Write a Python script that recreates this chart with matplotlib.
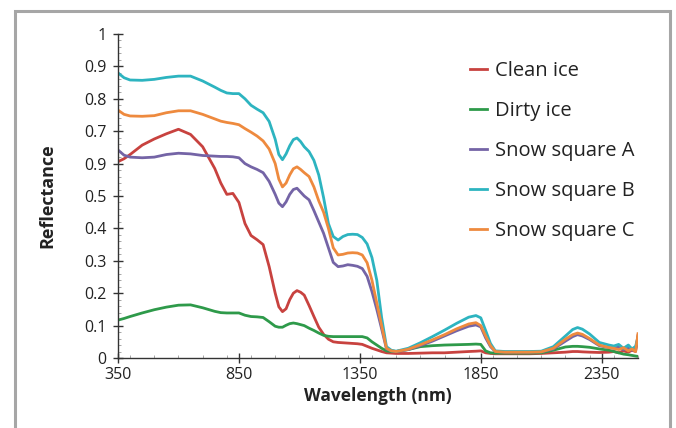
import matplotlib
matplotlib.use("Agg")
import matplotlib.pyplot as plt
from matplotlib.patches import Rectangle
from matplotlib.ticker import MultipleLocator, FixedLocator

plt.rcParams["font.family"] = ["Open Sans", "DejaVu Sans"]

# wavelength knots (nm)
wavelength = [350, 375, 400, 450, 500, 550, 600, 650, 700, 750,
              775, 800, 825, 850, 875, 900, 925, 950, 975, 1000,
              1015, 1030, 1045, 1060, 1075, 1090, 1105, 1120, 1140, 1160,
              1180, 1200, 1220, 1240, 1260, 1280, 1300, 1320, 1340, 1360,
              1380, 1400, 1420, 1440, 1460, 1480, 1500, 1550, 1600, 1650,
              1700, 1750, 1800, 1830, 1850, 1870, 1890, 1910, 1950, 2000,
              2050, 2100, 2150, 2200, 2230, 2250, 2270, 2300, 2340, 2380,
              2400, 2420, 2440, 2460, 2475, 2490, 2500]

clean_ice = [0.606, 0.615, 0.628, 0.657, 0.676, 0.692, 0.706, 0.690, 0.652, 0.585,
             0.540, 0.505, 0.508, 0.480, 0.415, 0.378, 0.365, 0.350, 0.282, 0.200,
             0.158, 0.143, 0.152, 0.180, 0.200, 0.208, 0.203, 0.194, 0.162, 0.128,
             0.095, 0.073, 0.058, 0.050, 0.048, 0.047, 0.046, 0.045, 0.044, 0.042,
             0.036, 0.030, 0.025, 0.020, 0.016, 0.015, 0.014, 0.014, 0.015, 0.016,
             0.016, 0.018, 0.020, 0.021, 0.022, 0.016, 0.014, 0.013, 0.013, 0.013,
             0.013, 0.014, 0.016, 0.018, 0.020, 0.020, 0.019, 0.018, 0.017, 0.018,
             0.020, 0.016, 0.022, 0.018, 0.024, 0.020, 0.070]
dirty_ice = [0.117, 0.122, 0.128, 0.139, 0.149, 0.157, 0.163, 0.164, 0.155, 0.144,
             0.140, 0.139, 0.139, 0.139, 0.132, 0.128, 0.127, 0.125, 0.112, 0.098,
             0.095, 0.095, 0.101, 0.106, 0.108, 0.106, 0.103, 0.100, 0.092, 0.085,
             0.077, 0.070, 0.067, 0.066, 0.066, 0.066, 0.066, 0.066, 0.066, 0.066,
             0.062, 0.050, 0.040, 0.030, 0.022, 0.020, 0.020, 0.026, 0.035, 0.038,
             0.040, 0.041, 0.042, 0.043, 0.042, 0.022, 0.016, 0.015, 0.015, 0.015,
             0.015, 0.016, 0.024, 0.034, 0.036, 0.036, 0.035, 0.033, 0.028, 0.024,
             0.020, 0.016, 0.012, 0.010, 0.008, 0.006, 0.005]
snow_a = [0.642, 0.626, 0.620, 0.618, 0.620, 0.628, 0.632, 0.630, 0.625, 0.623,
          0.622, 0.622, 0.621, 0.618, 0.600, 0.590, 0.582, 0.572, 0.545, 0.505,
          0.478, 0.467, 0.482, 0.505, 0.520, 0.524, 0.512, 0.500, 0.488, 0.455,
          0.420, 0.385, 0.340, 0.295, 0.282, 0.284, 0.288, 0.286, 0.283, 0.276,
          0.252, 0.205, 0.150, 0.090, 0.028, 0.022, 0.020, 0.026, 0.038, 0.052,
          0.068, 0.084, 0.098, 0.102, 0.096, 0.062, 0.035, 0.020, 0.018, 0.018,
          0.018, 0.019, 0.028, 0.052, 0.066, 0.072, 0.068, 0.057, 0.038, 0.032,
          0.030, 0.034, 0.026, 0.030, 0.024, 0.028, 0.060]
snow_b = [0.880, 0.865, 0.858, 0.857, 0.860, 0.866, 0.870, 0.870, 0.855, 0.836,
          0.826, 0.818, 0.816, 0.816, 0.800, 0.780, 0.768, 0.757, 0.730, 0.675,
          0.628, 0.612, 0.630, 0.655, 0.674, 0.679, 0.668, 0.652, 0.637, 0.610,
          0.565, 0.495, 0.415, 0.375, 0.364, 0.375, 0.381, 0.382, 0.381, 0.372,
          0.352, 0.310, 0.240, 0.125, 0.035, 0.024, 0.021, 0.030, 0.047, 0.066,
          0.086, 0.107, 0.126, 0.131, 0.124, 0.085, 0.045, 0.022, 0.020, 0.020,
          0.020, 0.021, 0.035, 0.068, 0.088, 0.094, 0.089, 0.074, 0.048, 0.040,
          0.037, 0.042, 0.030, 0.040, 0.028, 0.036, 0.065]
snow_c = [0.765, 0.752, 0.747, 0.746, 0.748, 0.757, 0.763, 0.763, 0.752, 0.738,
          0.731, 0.727, 0.724, 0.720, 0.708, 0.697, 0.685, 0.670, 0.645, 0.600,
          0.552, 0.528, 0.540, 0.565, 0.584, 0.590, 0.582, 0.572, 0.560, 0.528,
          0.485, 0.450, 0.400, 0.340, 0.318, 0.320, 0.324, 0.325, 0.324, 0.318,
          0.294, 0.240, 0.170, 0.100, 0.030, 0.022, 0.020, 0.027, 0.041, 0.056,
          0.072, 0.090, 0.105, 0.109, 0.100, 0.068, 0.038, 0.020, 0.018, 0.018,
          0.018, 0.019, 0.030, 0.058, 0.072, 0.077, 0.073, 0.060, 0.040, 0.032,
          0.030, 0.026, 0.032, 0.022, 0.028, 0.020, 0.075]

series = [
    ("Clean ice", clean_ice, "#c8423f"),
    ("Dirty ice", dirty_ice, "#2e9a4a"),
    ("Snow square A", snow_a, "#7464a6"),
    ("Snow square B", snow_b, "#2db4c0"),
    ("Snow square C", snow_c, "#ee8a3e"),
]

x_ticks = [350, 850, 1350, 1850, 2350]
y_ticks = [0, 0.1, 0.2, 0.3, 0.4, 0.5, 0.6, 0.7, 0.8, 0.9, 1.0]
y_tick_labels = ["0", "0.1", "0.2", "0.3", "0.4", "0.5", "0.9", "0.7", "0.8",
                 "0.9", "1"]

W, H = 676, 428
fig = plt.figure(figsize=(W / 100, H / 100), dpi=100)
ax = fig.add_axes([118 / W, 1 - 358 / H, 520 / W, 324 / H])

# grey frame around the whole figure (open at the bottom)
fig.patches.append(Rectangle((15 / W, -0.1), 655 / W, 1.1 - 11 / H,
                             transform=fig.transFigure, fill=False,
                             edgecolor="#a6a6a6", linewidth=2.2))

for label, values, color in series:
    ax.plot(wavelength, values, color=color, linewidth=2.0, label=label,
            solid_joinstyle="round")

ax.set_xlim(350, 2500)
ax.set_ylim(0, 1)
ax.xaxis.set_major_locator(FixedLocator(x_ticks))
ax.xaxis.set_minor_locator(MultipleLocator(100))
ax.set_yticks(y_ticks)
ax.set_yticklabels(y_tick_labels)
ax.yaxis.set_minor_locator(MultipleLocator(0.02))

for side in ("top", "right"):
    ax.spines[side].set_visible(False)
for side in ("left", "bottom"):
    ax.spines[side].set_color("#333333")
    ax.spines[side].set_linewidth(1.0)

ax.tick_params(which="major", direction="inout", length=7, width=1.0,
               color="#333333", labelsize=11.5, labelcolor="#222222")
ax.tick_params(axis="y", which="major", pad=5)
ax.tick_params(axis="x", which="major", pad=3)
ax.tick_params(which="minor", direction="in", length=2.5, width=0.6,
               color="#999999")
for lbl in ax.get_xticklabels() + ax.get_yticklabels():
    lbl.set_fontweight("medium")

ax.set_xlabel("Wavelength (nm)", fontsize=12.5, fontweight="bold",
              color="#222222", labelpad=3)
ax.set_ylabel("Reflectance", fontsize=13, fontweight="bold",
              color="#222222", labelpad=20)

ax.legend(loc="upper left", bbox_to_anchor=(470 / W, 1 - 61 / H),
          bbox_transform=fig.transFigure, frameon=False, fontsize=14.5,
          handlelength=0.85, handletextpad=0.4, labelspacing=0.99,
          borderpad=0, borderaxespad=0, labelcolor="#222222")

fig.savefig("out.png", dpi=100)
